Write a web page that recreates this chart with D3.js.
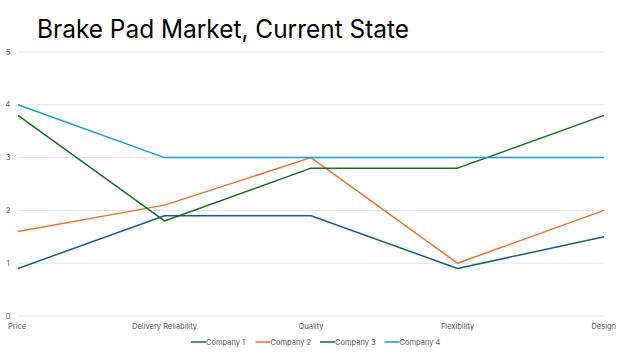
<!DOCTYPE html>
<html lang="en">
<head>
  <meta charset="UTF-8">
  <title>Brake Pad Market, Current State</title>
  <style>
    body { margin: 0; background: #fff; }
    .tick-label { fill: #595959; font-size: 7.5px; font-family: "Inter", sans-serif; }
    .legend-label { fill: #595959; font-size: 7.5px; font-family: "Inter", sans-serif; }
    .title { fill: #000; font-size: 25px; font-family: "Inter", sans-serif; }
  </style>
  <script src="https://d3js.org/d3.v7.min.js"></script>
</head>
<body>
  <svg width="624" height="353"></svg>
  <script>
    const categories = ['Price', 'Delivery Reliability', 'Quality', 'Flexibility', 'Design'];
    const seriesNames = ['Company 1', 'Company 2', 'Company 3', 'Company 4'];
    const company1 = [0.9, 1.9, 1.9, 0.9, 1.5];
    const company2 = [1.6, 2.1, 3.0, 1.0, 2.0];
    const company3 = [3.8, 1.8, 2.8, 2.8, 3.8];
    const company4 = [4.0, 3.0, 3.0, 3.0, 3.0];
    const yTicks = [0, 1, 2, 3, 4, 5];
    const colors = ['#156082', '#E97132', '#196B24', '#0F9ED5'];

    const series = [company1, company2, company3, company4];

    const svg = d3.select('svg');
    const margin = { left: 18, right: 20, top: 52, bottom: 37 };
    const width = +svg.attr('width');
    const height = +svg.attr('height');

    const x = d3.scalePoint()
      .domain(categories)
      .range([margin.left, width - margin.right]);

    const y = d3.scaleLinear()
      .domain([0, 5])
      .range([height - margin.bottom, margin.top]);

    svg.append('text')
      .attr('class', 'title')
      .attr('x', 37)
      .attr('y', 38)
      .attr('textLength', 372)
      .attr('lengthAdjust', 'spacingAndGlyphs')
      .text('Brake Pad Market, Current State');

    // gridlines
    svg.append('g').selectAll('line').data(yTicks)
      .enter().append('line')
        .attr('x1', margin.left)
        .attr('x2', width - margin.right)
        .attr('y1', d => y(d))
        .attr('y2', d => y(d))
        .attr('stroke', '#e3e3e3')
        .attr('stroke-width', 1);

    svg.append('g').selectAll('text').data(yTicks)
      .enter().append('text')
        .attr('class', 'tick-label')
        .attr('x', 8)
        .attr('y', d => y(d))
        .attr('dy', '0.35em')
        .attr('text-anchor', 'middle')
        .text(d => d);

    svg.append('g').selectAll('text').data(categories)
      .enter().append('text')
        .attr('class', 'tick-label')
        .attr('x', (d, i) => i === 0 ? x(d) - 10 : (i === categories.length - 1 ? x(d) + 12 : x(d)))
        .attr('y', height - margin.bottom + 13)
        .attr('text-anchor', (d, i) => i === 0 ? 'start' : (i === categories.length - 1 ? 'end' : 'middle'))
        .text(d => d);

    const line = d3.line()
      .x((d, i) => x(categories[i]))
      .y(d => y(d));

    svg.append('g').selectAll('path').data(series)
      .enter().append('path')
        .attr('d', line)
        .attr('fill', 'none')
        .attr('stroke', (d, i) => colors[i])
        .attr('stroke-width', 1.5)
        .attr('stroke-linejoin', 'round');

    // legend
    const legendStart = 191;
    const legendStep = 64.5;
    const legendY = 342;
    const legend = svg.append('g').selectAll('g').data(seriesNames)
      .enter().append('g')
        .attr('transform', (d, i) => `translate(${legendStart + i * legendStep},${legendY})`);

    legend.append('line')
      .attr('x1', 0).attr('x2', 15)
      .attr('y1', 0).attr('y2', 0)
      .attr('stroke', (d, i) => colors[i])
      .attr('stroke-width', 1.5);

    legend.append('text')
      .attr('class', 'legend-label')
      .attr('x', 15)
      .attr('y', 0)
      .attr('dy', '0.35em')
      .text(d => d);
  </script>
</body>
</html>
